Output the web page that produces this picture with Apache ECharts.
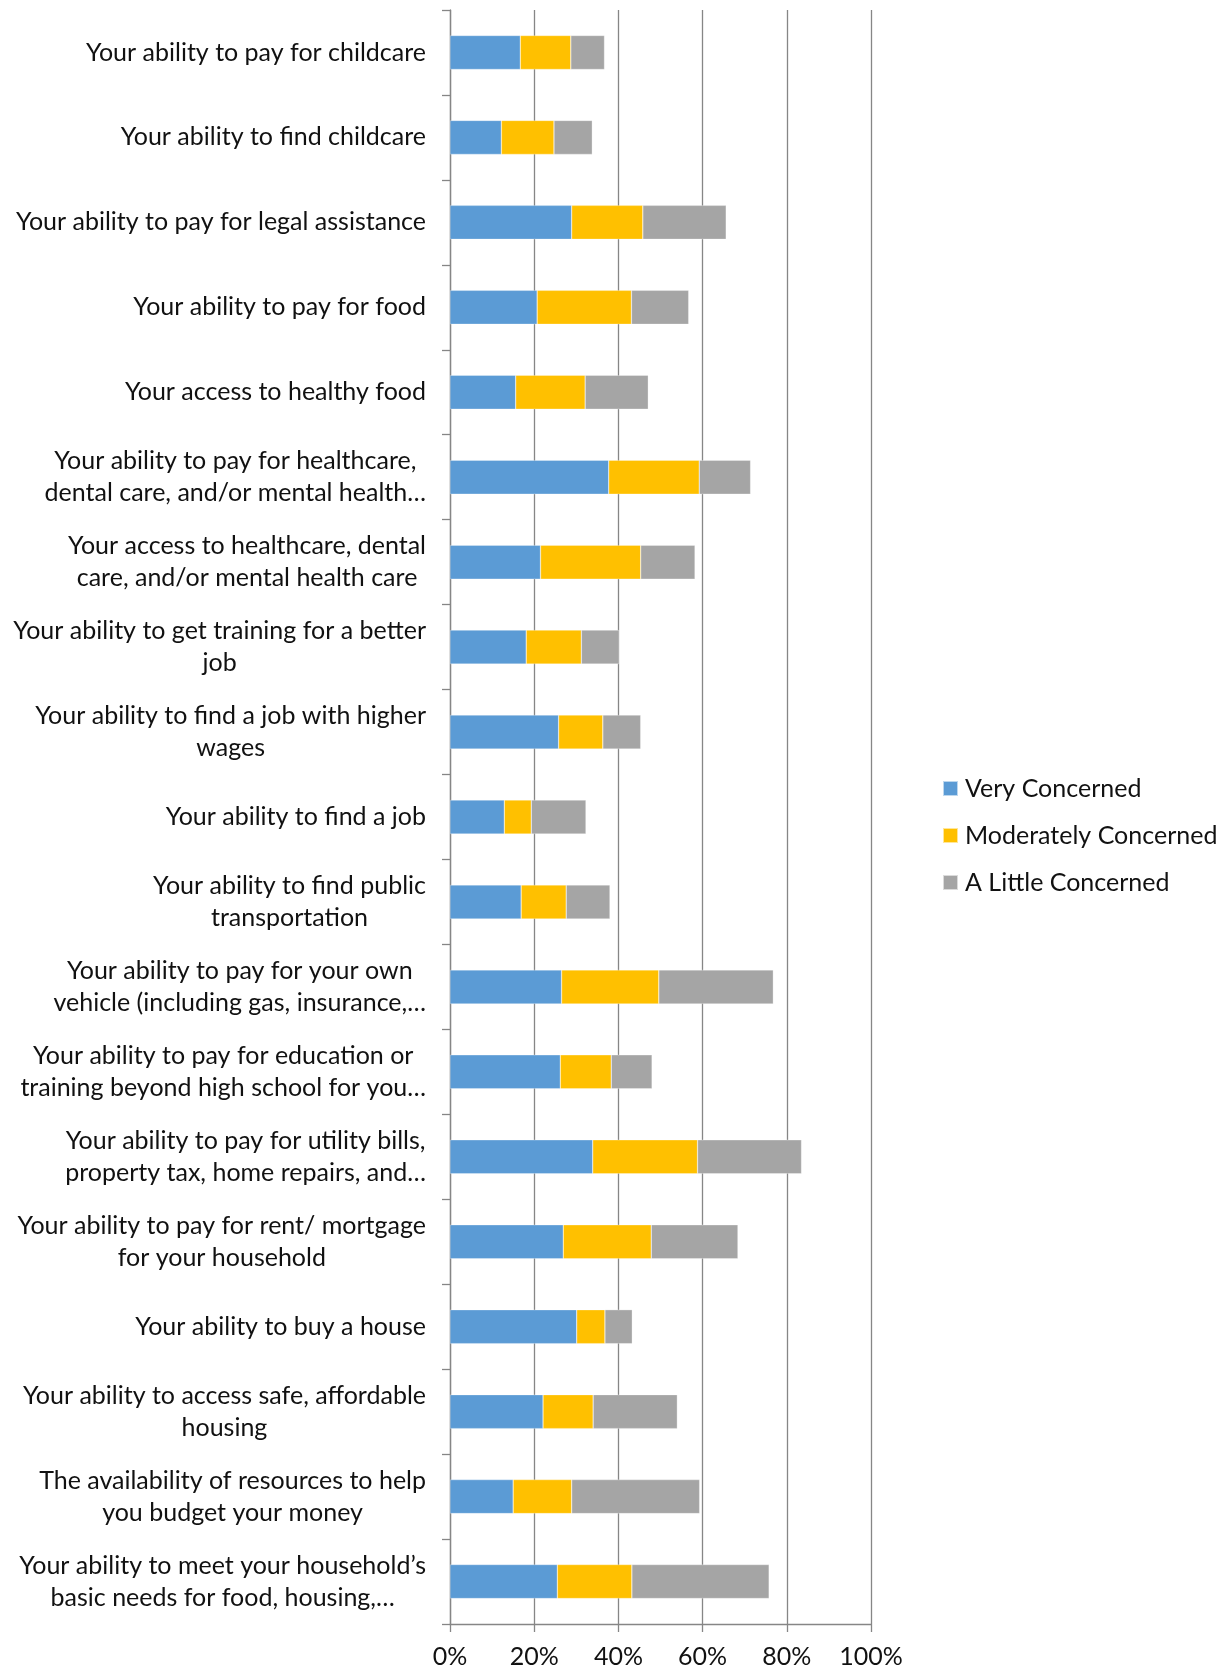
<!DOCTYPE html>
<html>
<head>
<meta charset="utf-8">
<script src="https://cdn.jsdelivr.net/npm/echarts@6/dist/echarts.min.js"></script>
<style>
  html, body { margin: 0; padding: 0; background: #fff; }
  #chart { width: 1223px; height: 1670px; }
</style>
</head>
<body>
<div id="chart"></div>
<script>
// Survey items, top to bottom
const categories = [
  "Your ability to pay for childcare",
  "Your ability to find childcare",
  "Your ability to pay for legal assistance",
  "Your ability to pay for food",
  "Your access to healthy food",
  "Your ability to pay for healthcare,\ndental care, and/or mental health…",
  "Your access to healthcare, dental\ncare, and/or mental health care",
  "Your ability to get training for a better\njob",
  "Your ability to find a job with higher\nwages",
  "Your ability to find a job",
  "Your ability to find public\ntransportation",
  "Your ability to pay for your own\nvehicle (including gas, insurance,…",
  "Your ability to pay for education or\ntraining beyond high school for you…",
  "Your ability to pay for utility bills,\nproperty tax, home repairs, and…",
  "Your ability to pay for rent/ mortgage\nfor your household",
  "Your ability to buy a house",
  "Your ability to access safe, affordable\nhousing",
  "The availability of resources to help\nyou budget your money",
  "Your ability to meet your household’s\nbasic needs for food, housing,…"
];

// Share of respondents (%)
const veryConcerned = [16.7, 12.2, 28.9, 20.7, 15.6, 37.7, 21.5, 18.1, 25.8, 12.9, 16.9, 26.5, 26.2, 33.9, 26.9, 30.1, 22.1, 15.0, 25.5];
const moderatelyConcerned = [12.0, 12.5, 16.9, 22.4, 16.5, 21.5, 23.8, 13.1, 10.5, 6.4, 10.7, 23.1, 12.1, 24.9, 20.9, 6.7, 11.9, 13.9, 17.7];
const littleConcerned = [8.0, 9.1, 19.8, 13.6, 15.0, 12.2, 12.9, 9.0, 9.0, 13.0, 10.4, 27.2, 9.7, 24.7, 20.6, 6.5, 20.0, 30.4, 32.6];

const seriesNames = ["Very Concerned", "Moderately Concerned", "A Little Concerned"];
const colors = ["#5B9BD5", "#FFC000", "#A5A5A5"];

const FONT = "Lato";
const AXIS_GRAY = "#868686";

const chart = echarts.init(document.getElementById("chart"), null, { renderer: "canvas" });

function makeSeries(name, data, color) {
  return {
    name: name,
    type: "bar",
    stack: "total",
    data: data,
    barWidth: 34,
    itemStyle: { color: color, borderColor: "rgba(255,255,255,0.6)", borderWidth: 0.5 },
    emphasis: { disabled: true }
  };
}

chart.setOption({
  animation: false,
  backgroundColor: "#ffffff",
  textStyle: { fontFamily: FONT },
  grid: { left: 450, right: 352, top: 10, bottom: 46, containLabel: false },
  legend: {
    orient: "vertical",
    left: 937,
    top: 771,
    itemWidth: 15,
    itemHeight: 15,
    itemGap: 22,
    icon: "rect",
    textStyle: { fontFamily: FONT, fontSize: 25, color: "#111", padding: [0, 0, 0, 2] },
    data: seriesNames
  },
  xAxis: {
    type: "value",
    min: 0,
    max: 100,
    interval: 20,
    axisLine: { show: true, lineStyle: { color: AXIS_GRAY, width: 1.3 } },
    axisTick: { show: true, length: 8, lineStyle: { color: AXIS_GRAY, width: 1.3 } },
    splitLine: { show: true, lineStyle: { color: AXIS_GRAY, width: 1.3 } },
    axisLabel: {
      formatter: "{value}%",
      fontFamily: FONT,
      fontSize: 25,
      color: "#111",
      margin: 20
    }
  },
  yAxis: {
    type: "category",
    inverse: true,
    data: categories,
    axisLine: { show: true, lineStyle: { color: AXIS_GRAY, width: 1.3 } },
    axisTick: { show: true, length: 8, lineStyle: { color: AXIS_GRAY, width: 1.3 } },
    axisLabel: {
      fontFamily: FONT,
      fontSize: 25,
      color: "#111",
      margin: 24,
      lineHeight: 32,
      align: "right",
      // wrapped labels: each line centred inside the right-aligned block
      formatter: function (value) { return "{c|" + value + "}"; },
      rich: {
        c: { align: "center", fontFamily: FONT, fontSize: 25, color: "#111", lineHeight: 32 }
      }
    }
  },
  series: [
    makeSeries(seriesNames[0], veryConcerned, colors[0]),
    makeSeries(seriesNames[1], moderatelyConcerned, colors[1]),
    makeSeries(seriesNames[2], littleConcerned, colors[2])
  ]
});
</script>
</body>
</html>
